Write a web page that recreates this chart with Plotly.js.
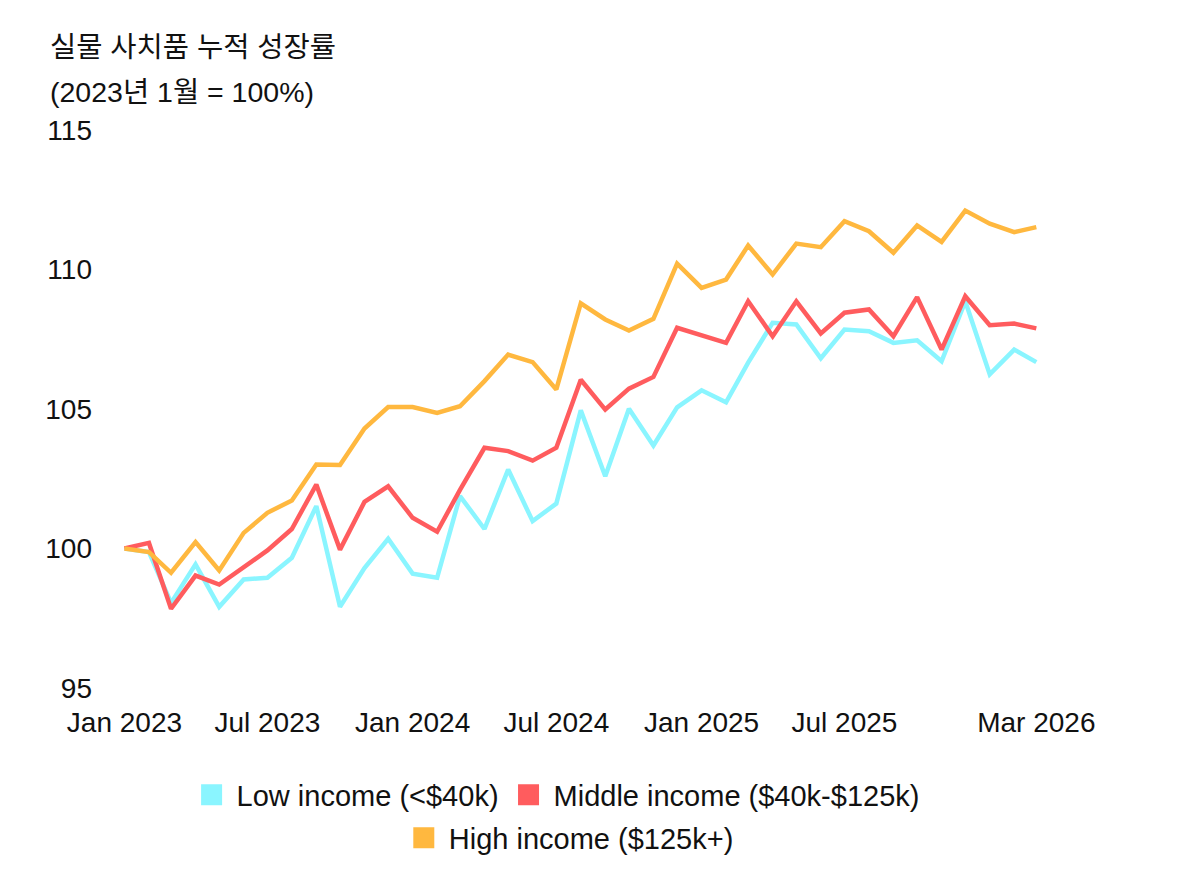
<!DOCTYPE html>
<html>
<head>
<meta charset="utf-8">
<script src="https://cdn.plot.ly/plotly-3.0.1.min.js"></script>
<style>html,body{margin:0;padding:0;background:#fff;}#chart{width:1200px;height:892px;}</style>
</head>
<body>
<div id="chart"></div>
<script>
// Monthly, Jan 2023 .. Mar 2026
const months = [];
for (let y = 2023; y <= 2026; y++) {
  for (let m = 1; m <= 12; m++) {
    if (y === 2026 && m > 3) break;
    months.push(y + '-' + String(m).padStart(2, '0') + '-01');
  }
}
const lowIncome = [100.0, 99.87, 98.05, 99.43, 97.91, 98.89, 98.95, 99.67, 101.52, 97.91,
  99.3, 100.35, 99.1, 98.95, 101.88, 100.7, 102.83, 100.98, 101.61, 104.95,
  102.59, 105.01, 103.69, 105.06, 105.67, 105.24, 106.66, 108.09, 108.03, 106.82,
  107.85, 107.79, 107.37, 107.46, 106.71, 108.86, 106.24, 107.13, 106.68];
const middleIncome = [100.0, 100.2, 97.84, 99.03, 98.71, 99.33, 99.93, 100.7, 102.29, 99.96,
  101.67, 102.23, 101.1, 100.6, 102.1, 103.61, 103.49, 103.15, 103.61, 106.05,
  104.98, 105.73, 106.15, 107.91, 107.63, 107.37, 108.86, 107.61, 108.86, 107.71,
  108.45, 108.57, 107.61, 109.01, 107.13, 109.04, 108.0, 108.06, 107.89];
const highIncome = [100.0, 99.87, 99.13, 100.23, 99.21, 100.56, 101.28, 101.72, 103.01, 102.99,
  104.3, 105.07, 105.07, 104.86, 105.1, 106.0, 106.95, 106.68, 105.7, 108.79,
  108.21, 107.81, 108.23, 110.21, 109.34, 109.64, 110.86, 109.82, 110.93, 110.8,
  111.73, 111.37, 110.6, 111.58, 110.99, 112.11, 111.64, 111.34, 111.52];
const seriesNames = ['Low income (<$40k)', 'Middle income ($40k-$125k)', 'High income ($125k+)'];
const colors = ['#8AF5FF', '#FF5C5E', '#FFB83F'];
const xTickVals = ['2023-01-01', '2023-07-01', '2024-01-01', '2024-07-01', '2025-01-01', '2025-07-01', '2026-03-01'];
const xTickText = ['Jan 2023', 'Jul 2023', 'Jan 2024', 'Jul 2024', 'Jan 2025', 'Jul 2025', 'Mar 2026'];
const yTickVals = [95, 100, 105, 110, 115];
const titleLines = ['실물 사치품 누적 성장률', '(2023년 1월 = 100%)'];

const FONT = 'Liberation Sans, Arial, Noto Sans CJK KR, sans-serif';
const allY = [lowIncome, middleIncome, highIncome];
const legendIds = ['legend', 'legend', 'legend2'];

const traces = [];
allY.forEach((ys, i) => {
  traces.push({
    x: months, y: ys, type: 'scatter', mode: 'lines',
    line: {color: colors[i], width: 4.5},
    name: seriesNames[i], legendgroup: 'g' + i, showlegend: false,
    hoverinfo: 'skip'
  });
});
allY.forEach((ys, i) => {
  traces.push({
    x: [null], y: [null], type: 'scatter', mode: 'markers',
    marker: {color: colors[i], symbol: 'square', size: 16, line: {color: colors[i], width: 8}},
    name: seriesNames[i], legendgroup: 'g' + i, showlegend: true,
    legend: legendIds[i]
  });
});

const legendBase = {
  orientation: 'h', xref: 'container', xanchor: 'center',
  yref: 'container', yanchor: 'middle',
  font: {family: FONT, size: 29, color: '#111111'},
  itemclick: false, traceorder: 'normal', itemwidth: 40
};

const layout = {
  width: 1200, height: 892,
  paper_bgcolor: '#ffffff', plot_bgcolor: '#ffffff',
  font: {family: FONT, size: 28, color: '#111111'},
  margin: {l: 100, r: 140, t: 130, b: 204, pad: 0},
  showlegend: true,
  legend: Object.assign({}, legendBase, {x: 0.463, y: 1 - 795 / 892}),
  legend2: Object.assign({}, legendBase, {x: 0.474, y: 1 - 838 / 892}),
  xaxis: {
    type: 'date', range: ['2022-12-01', '2026-03-31'],
    tickvals: xTickVals, ticktext: xTickText,
    showgrid: false, zeroline: false, showline: false, ticks: '',
    ticklabelstandoff: 15,
    tickfont: {family: FONT, size: 28, color: '#111111'}
  },
  yaxis: {
    range: [95, 115], tickvals: yTickVals,
    showgrid: false, zeroline: false, showline: false, ticks: '',
    ticklabelstandoff: 7,
    tickfont: {family: FONT, size: 28, color: '#111111'}
  },
  annotations: []
};
const plotH = 892 - 130 - 204, plotW = 1200 - 100 - 140;
const titleY = [47, 92];
titleLines.forEach((t, i) => {
  layout.annotations.push({
    text: t, xref: 'paper', yref: 'paper', showarrow: false,
    x: (48 - 100) / plotW, y: (892 - 204 - titleY[i]) / plotH,
    xanchor: 'left', yanchor: 'middle',
    font: {family: FONT, size: 28.5, color: '#111111'}
  });
});

Plotly.newPlot('chart', traces, layout, {displayModeBar: false, staticPlot: true});
</script>
</body>
</html>
